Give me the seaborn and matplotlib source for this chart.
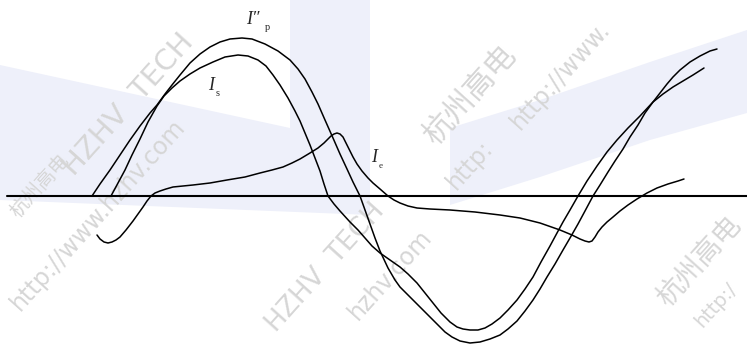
import numpy as np
import pandas as pd
import seaborn as sns
import matplotlib
matplotlib.use("Agg")
import matplotlib.pyplot as plt

# waveforms: time (px) and amplitude (px above the zero line)
t_p = [92, 100, 110, 120, 130, 140, 150, 157, 165, 172, 180, 190, 200, 210, 220, 230,
       242, 252, 265, 278, 290, 298, 305, 312, 318, 325, 333, 340, 347, 353, 360,
       365, 370, 375, 380, 388, 395, 400, 408, 417, 427, 437, 445, 452, 460, 470,
       480, 490, 500, 508, 517, 525, 533, 540, 547, 555, 563, 570, 578, 585, 593,
       600, 608, 615, 623, 630, 638, 645, 653, 660, 667, 673, 680, 690, 700, 710, 717]
i_p = [0, 12, 26, 41, 56, 70, 83, 91, 102, 111, 121, 133, 142, 149, 154, 157,
       158, 157, 152, 145, 136, 127, 117, 104, 92, 76, 58, 42, 27, 14, 0,
       -14, -28, -42, -55, -72, -84, -91, -99, -108, -118, -128, -136, -141, -145, -147,
       -146, -143, -139, -133, -125, -115, -104, -93, -81, -68, -54, -42, -28, -15, 0,
       11, 24, 35, 47, 59, 71, 83, 94, 103, 112, 119, 126, 134, 140, 145, 147]

t_s = [111, 118, 125, 132, 140, 148, 157, 164, 172, 180, 190, 200, 213, 225, 238, 248,
       258, 266, 273, 280, 288, 295, 300, 305, 310, 315, 320, 324, 328,
       334, 340, 350, 358, 365, 372, 380, 390, 400, 408, 417, 425, 433, 441, 450,
       457, 463, 470, 478, 485, 492, 500, 508, 517, 525, 533, 541, 550, 557, 563, 570, 578,
       587, 597, 607, 617, 628, 640, 653, 663, 673, 683, 693, 704]
i_s = [0, 13, 26, 41, 57, 74, 90, 100, 108, 115, 122, 128, 134, 139, 141, 140,
       136, 130, 121, 111, 98, 85, 75, 63, 51, 38, 25, 12, 0,
       -8, -15, -26, -34, -42, -50, -57, -64, -71, -78, -87, -97, -107, -117, -126,
       -131, -133, -134, -134, -132, -128, -122, -114, -104, -93, -81, -66, -50, -37, -26, -14, 0,
       15, 30, 44, 56, 68, 80, 94, 102, 109, 115, 121, 128]

t_e = [97, 100, 104, 108, 112, 116, 120, 126, 133, 138, 143, 147, 151, 155, 160, 166,
       173, 183, 193, 210, 227, 245, 260, 272, 283, 292, 300, 310, 318, 324, 328, 331,
       334, 337, 340, 343, 346, 349, 353, 357, 362, 368, 373, 380, 388, 394, 400, 408,
       417, 430, 450, 475, 500, 520, 540, 560, 572, 580, 585, 589, 592, 595, 598, 602,
       607, 613, 620, 628, 637, 647, 657, 668, 678, 684]
i_e = [-39, -43, -46, -47, -46, -44, -41, -34, -25, -18, -11, -5, 0, 3, 5, 7,
       9, 10, 11, 13, 16, 19, 23, 26, 29, 33, 37, 43, 48, 53, 57, 60,
       62, 63, 62, 59, 53, 47, 39, 32, 25, 18, 13, 7, 0, -4, -7, -10,
       -12, -13, -14, -16, -19, -22, -27, -34, -39, -43, -45, -46, -45, -41, -36, -31,
       -26, -21, -15, -9, -3, 3, 8, 12, 15, 17]

W, H, Y0 = 747, 345, 196

frames = []
for name, t, v in [("p", t_p, i_p), ("s", t_s, i_s), ("e", t_e, i_e)]:
    frames.append(pd.DataFrame({"t": t, "i": v, "curve": name}))
df = pd.concat(frames, ignore_index=True)

sns.set_theme(style="white")
fig = plt.figure(figsize=(W / 100, H / 100), dpi=100)
ax = fig.add_axes([0, 0, 1, 1])
ax.set_xlim(0, W)
ax.set_ylim(Y0 - H, Y0)
ax.axis("off")

# faint watermark bands
band = "#eef0fa"
left_band = [(0, 65), (290, 128), (290, 0), (370, 0), (370, 215), (0, 200)]
right_band = [(450, 128), (540, 100), (650, 62), (747, 30), (747, 113), (650, 140), (540, 177), (450, 205)]
for poly in (left_band, right_band):
    xs = [p[0] for p in poly]
    ys = [Y0 - p[1] for p in poly]
    ax.fill(xs, ys, color=band, lw=0, zorder=0)

wm = "#d6d6d6"
marks = [("HZHV  TECH", 128, 105, 21), ("http://www.hzhv.com", 98, 215, 17),
         ("杭州高电", 40, 186, 14), ("HZHV  TECH", 325, 268, 19), ("hzhv.com", 390, 275, 17),
         ("杭州高电", 470, 95, 22), ("http://www.", 560, 75, 17), ("http:", 470, 165, 17),
         ("杭州高电", 700, 262, 20), ("http:/", 716, 305, 14)]
for txt, x, y, fs in marks:
    ax.text(x, Y0 - y, txt, color=wm, fontsize=fs, rotation=48, ha="center", va="center",
            family=["DejaVu Sans", "Noto Sans CJK SC"], zorder=0.5)

# zero line
ax.plot([7, W], [0, 0], color="black", lw=1.5, zorder=2)

sns.lineplot(data=df, x="t", y="i", units="curve", estimator=None, sort=False,
             color="black", lw=1.1, ax=ax, zorder=3, solid_joinstyle="round")

serif = "Liberation Serif"
ax.text(246, Y0 - 19, "I\u2033", fontsize=13, style="italic", family=serif, ha="left", va="center")
ax.text(265, Y0 - 27, "p", fontsize=7.5, family=serif, ha="left", va="center")
ax.text(208, Y0 - 86, "I", fontsize=13, style="italic", family=serif, ha="left", va="center")
ax.text(216, Y0 - 93, "s", fontsize=7.5, family=serif, ha="left", va="center")
ax.text(371, Y0 - 158, "I", fontsize=13, style="italic", family=serif, ha="left", va="center")
ax.text(379, Y0 - 166, "e", fontsize=6.5, family=serif, ha="left", va="center")

fig.savefig("out.png", dpi=100)
